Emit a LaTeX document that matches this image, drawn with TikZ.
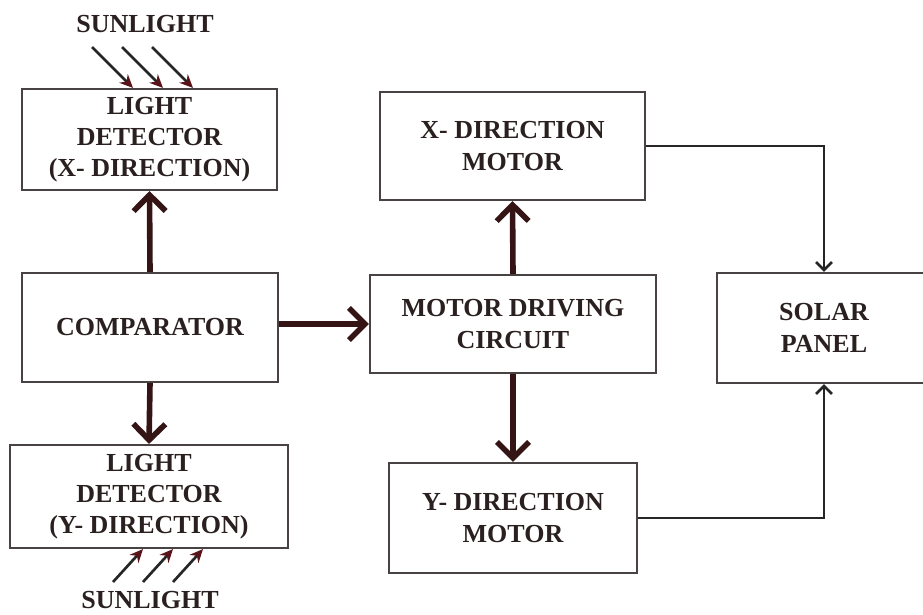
\documentclass[tikz,border=0pt]{standalone}
\usepackage{fontspec}
\setmainfont{Liberation Serif}
\usetikzlibrary{arrows.meta}

\definecolor{boxline}{RGB}{72,66,66}
\definecolor{thickbrown}{RGB}{52,20,20}
\definecolor{txtdark}{RGB}{42,32,32}
\definecolor{raytip}{RGB}{90,20,25}

\tikzset{every picture/.style={line width=0.75pt}}
\tikzset{
  blockbox/.style={draw=boxline, line width=1.6pt, fill=white, align=center, inner sep=0pt,
    text=txtdark, font=\bfseries\fontsize{19.5}{23.5}\selectfont},
  thickarrow/.style={draw=thickbrown, line width=4.2pt, -{Straight Barb[length=12pt,width=24pt]}},
  thinarrow/.style={draw=black!85, line width=2pt, -{Straight Barb[length=6pt,width=12pt]}},
  rayarrow/.style={draw=black!85, line width=2pt, -{Stealth[length=10pt,width=9pt,fill=raytip,color=raytip]}},
  sunlabel/.style={text=txtdark, font=\bfseries\fontsize{19.5}{22}\selectfont, inner sep=0pt}
}

\begin{document}
\begin{tikzpicture}[x=0.75pt,y=0.75pt,yscale=-1,xscale=1]
\path[use as bounding box] (0,0) rectangle (923,614);

%Shape: Rectangle [light detector x]
\node[blockbox, minimum width=191.25pt, minimum height=75.75pt] (ldx) at (149.5,139.5) {LIGHT\\DETECTOR\\(X- DIRECTION)};
%Shape: Rectangle [comparator]
\node[blockbox, minimum width=192pt, minimum height=81.75pt] (comp) at (150,327.5) {COMPARATOR};
%Shape: Rectangle [light detector y]
\node[blockbox, minimum width=208.5pt, minimum height=77.25pt] (ldy) at (149,496.5) {LIGHT\\DETECTOR\\(Y- DIRECTION)};
%Shape: Rectangle [motor driving circuit]
\node[blockbox, minimum width=214.5pt, minimum height=73.5pt] (mdc) at (513,324) {MOTOR DRIVING\\CIRCUIT};
%Shape: Rectangle [x motor]
\node[blockbox, minimum width=198.75pt, minimum height=81pt] (xmot) at (512.5,146) {X- DIRECTION\\MOTOR};
%Shape: Rectangle [y motor]
\node[blockbox, minimum width=186pt, minimum height=82.5pt] (ymot) at (513,518) {Y- DIRECTION\\MOTOR};
%Shape: Rectangle [solar panel]
\node[blockbox, minimum width=160.5pt, minimum height=82.5pt] (solar) at (824,328) {SOLAR\\PANEL};

% Text Node
\node[sunlabel] (sunx) at (145,24) {SUNLIGHT};
% Text Node
\node[sunlabel] (suny) at (150,600) {SUNLIGHT};

%Straight Lines [thick arrows]
\draw[thickarrow] (comp.north) -- (ldx.south);
\draw[thickarrow] (comp.south) -- (ldy.north);
\draw[thickarrow] (comp.east |- mdc.west) -- (mdc.west);
\draw[thickarrow] (mdc.north) -- (xmot.south);
\draw[thickarrow] (mdc.south) -- (ymot.north);

%Straight Lines [to solar panel]
\draw[thinarrow] (xmot.east) -| (solar.north);
\draw[thinarrow] (ymot.east) -| (solar.south);

%Straight Lines [sunlight rays]
\foreach \i in {0,1,2}{
  \coordinate (rxs\i) at ({92+30*\i},47);
  \coordinate (rys\i) at ({113+30*\i},582);
  \draw[rayarrow] (rxs\i) -- ({133+30*\i},0 |- ldx.north);
  \draw[rayarrow] (rys\i) -- ({143+30*\i},0 |- ldy.south);
}

\end{tikzpicture}
\end{document}
